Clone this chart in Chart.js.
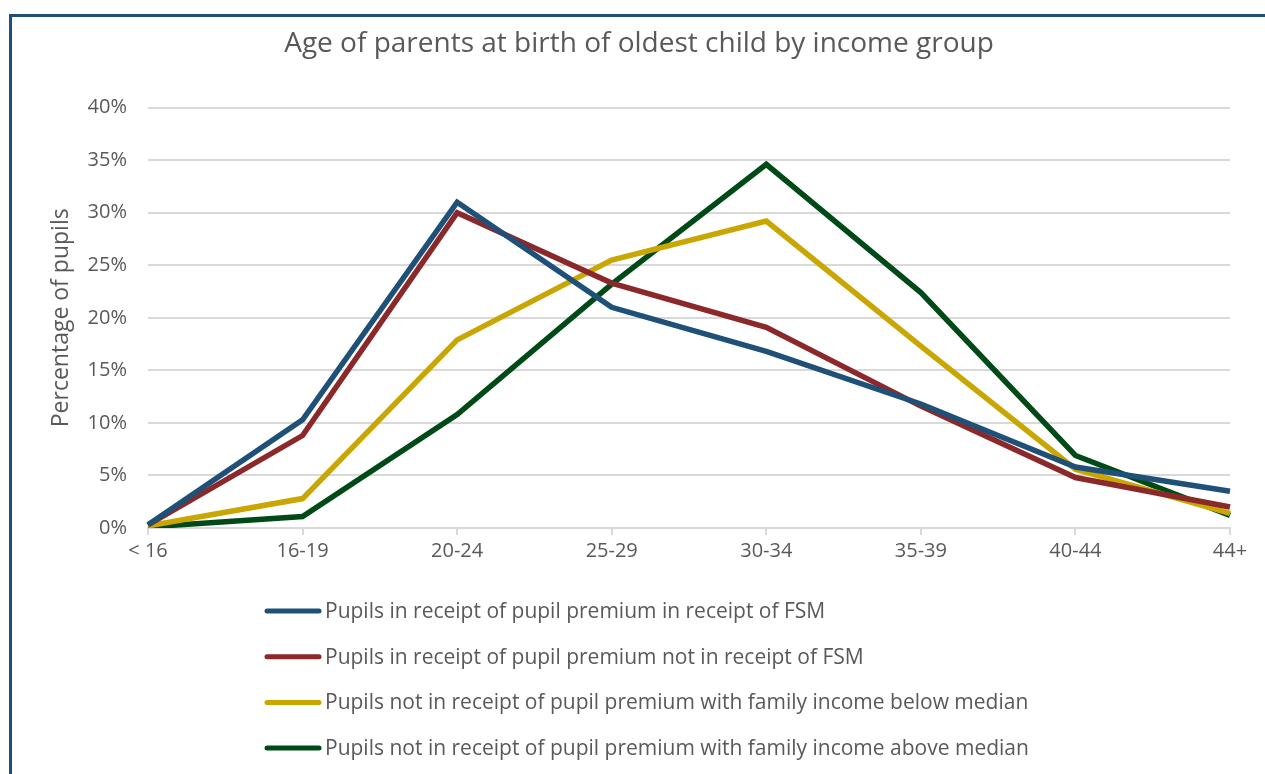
<!DOCTYPE html>
<html>
<head>
<meta charset="utf-8">
<script src="https://cdn.jsdelivr.net/npm/chart.js@4"></script>
<style>
    html, body { margin: 0; padding: 0; background: #fff; }
    #wrap { position: relative; width: 1265px; height: 774px; }
    #frame { position: absolute; left: 9px; top: 14px; width: 1256px; height: 760px;
             border-top: 3px solid #1f4e79; border-left: 3px solid #1f4e79; box-sizing: border-box; }
    canvas { position: absolute; left: 0; top: 0; }
</style>
</head>
<body>
<div id="wrap">
    <div id="frame"></div>
    <canvas id="myChart" width="1265" height="774"></canvas>
</div>
<script>
const ageGroups = ['< 16', '16-19', '20-24', '25-29', '30-34', '35-39', '40-44', '44+'];

const fsmPremium = [0.3, 10.3, 31.0, 21.0, 16.8, 11.8, 5.8, 3.5];
const nonFsmPremium = [0.3, 8.8, 30.0, 23.3, 19.1, 11.6, 4.8, 2.0];
const belowMedian = [0.2, 2.8, 17.9, 25.5, 29.2, 17.3, 5.6, 1.4];
const aboveMedian = [0.1, 1.1, 10.8, 23.2, 34.6, 22.4, 6.9, 1.2];

const yTicks = [0, 5, 10, 15, 20, 25, 30, 35, 40];

const textColor = '#595959';
const fontFamily = '"Open Sans", Lato, sans-serif';

// legend drawn as a vertical list under the plot
const listLegend = {
    id: 'listLegend',
    afterDraw(chart) {
        const c = chart.ctx;
        c.save();
        c.font = '21px ' + fontFamily;
        c.fillStyle = textColor;
        c.textBaseline = 'middle';
        chart.data.datasets.forEach(function (ds, i) {
            const y = 611 + i * 45.7;
            c.strokeStyle = ds.borderColor;
            c.lineWidth = 5;
            c.lineCap = 'round';
            c.beginPath();
            c.moveTo(267, y);
            c.lineTo(319, y);
            c.stroke();
            c.fillText(ds.label, 325, y + 1);
        });
        c.restore();
    }
};

function line(label, values, color) {
    return {
        label: label,
        data: values,
        borderColor: color,
        backgroundColor: color,
        borderWidth: 5.5,
        pointRadius: 0,
        tension: 0,
        fill: false
    };
}

const ctx = document.getElementById('myChart').getContext('2d');

new Chart(ctx, {
    type: 'line',
    data: {
        labels: ageGroups,
        datasets: [
            line('Pupils in receipt of pupil premium in receipt of FSM', fsmPremium, '#1f5078'),
            line('Pupils in receipt of pupil premium not in receipt of FSM', nonFsmPremium, '#8b2829'),
            line('Pupils not in receipt of pupil premium with family income below median', belowMedian, '#c9a602'),
            line('Pupils not in receipt of pupil premium with family income above median', aboveMedian, '#004a17')
        ]
    },
    options: {
        responsive: false,
        animation: false,
        layout: { padding: { left: 48, right: 35, top: 27, bottom: 207 } },
        plugins: {
            legend: { display: false },
            tooltip: { enabled: false },
            title: {
                display: true,
                text: 'Age of parents at birth of oldest child by income group',
                color: textColor,
                font: { family: fontFamily, size: 28, weight: 'normal' },
                padding: { top: 0, bottom: 47 }
            }
        },
        scales: {
            x: {
                offset: false,
                grid: { drawOnChartArea: false, drawTicks: true, tickLength: 7, color: '#d9d9d9', lineWidth: 2 },
                border: { color: '#d9d9d9', width: 2 },
                ticks: { color: textColor, font: { family: fontFamily, size: 20 }, padding: 4, maxRotation: 0, autoSkip: false }
            },
            y: {
                min: 0,
                max: 40,
                afterBuildTicks(scale) { scale.ticks = yTicks.map(v => ({ value: v })); },
                afterFit(scale) { scale.width = 100; },
                grid: { color: '#d9d9d9', lineWidth: 2, drawTicks: false },
                border: { display: false },
                ticks: { color: textColor, font: { family: fontFamily, size: 20 }, padding: 21,
                         callback: v => v + '%' },
                title: { display: true, text: 'Percentage of pupils', color: textColor,
                         font: { family: fontFamily, size: 23 }, padding: 0 }
            }
        }
    },
    plugins: [listLegend]
});
</script>
</body>
</html>
